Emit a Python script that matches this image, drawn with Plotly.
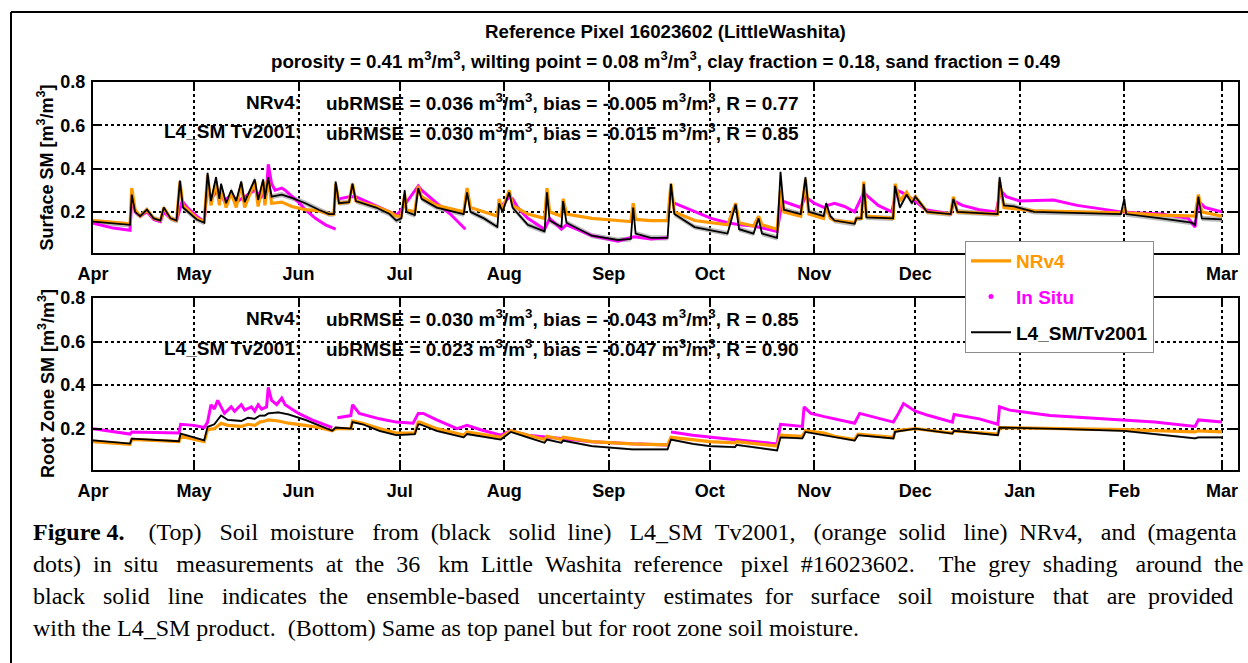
import plotly.graph_objects as go

W, H = 1248, 663

# ---------------- data ----------------
surf_dates = [
    "2015-04-01", "2015-04-07", "2015-04-12", "2015-04-12 12:00", "2015-04-13 12:00", "2015-04-15",
    "2015-04-17", "2015-04-19", "2015-04-21", "2015-04-22", "2015-04-24", "2015-04-25 19:00",
    "2015-04-26 19:00", "2015-04-27 17:00", "2015-05-01 19:00", "2015-05-04", "2015-05-05", "2015-05-06",
    "2015-05-07 12:00", "2015-05-08 12:00", "2015-05-09", "2015-05-10 12:00", "2015-05-12", "2015-05-13 12:00",
    "2015-05-15", "2015-05-16", "2015-05-19", "2015-05-20", "2015-05-21 12:00", "2015-05-22",
    "2015-05-23", "2015-05-24", "2015-05-27", "2015-05-30", "2015-06-03", "2015-06-07",
    "2015-06-10", "2015-06-11 12:00", "2015-06-12", "2015-06-13", "2015-06-16", "2015-06-17",
    "2015-06-18", "2015-06-24", "2015-06-28", "2015-06-30", "2015-07-01 12:00", "2015-07-02 12:00",
    "2015-07-03", "2015-07-05 12:00", "2015-07-06 12:00", "2015-07-07 12:00", "2015-07-12", "2015-07-20",
    "2015-07-21", "2015-07-22", "2015-07-26", "2015-07-30", "2015-07-30 12:00", "2015-07-31 12:00",
    "2015-08-02 12:00", "2015-08-03 12:00", "2015-08-08", "2015-08-13", "2015-08-13 17:00", "2015-08-14 12:00",
    "2015-08-18", "2015-08-18 12:00", "2015-08-19 12:00", "2015-08-27", "2015-09-03 17:00", "2015-09-07 14:00",
    "2015-09-08 07:00", "2015-09-09", "2015-09-13 12:00", "2015-09-18 12:00", "2015-09-19 12:00", "2015-09-20 12:00",
    "2015-09-26 12:00", "2015-10-01 10:00", "2015-10-06 07:00", "2015-10-08 17:00", "2015-10-09 17:00", "2015-10-14",
    "2015-10-15 12:00", "2015-10-16 12:00", "2015-10-21", "2015-10-22", "2015-10-23", "2015-10-28",
    "2015-10-29 10:00", "2015-10-30 10:00", "2015-11-03 19:00", "2015-11-04 14:00", "2015-11-05 19:00", "2015-11-07",
    "2015-11-13", "2015-11-13 12:00", "2015-11-15", "2015-11-15 17:00", "2015-11-16 12:00", "2015-11-24 10:00",
    "2015-11-25", "2015-11-26 10:00", "2015-11-28 10:00", "2015-11-30", "2015-12-01", "2015-12-04 12:00",
    "2015-12-11 12:00", "2015-12-12 07:00", "2015-12-13 12:00", "2015-12-25 10:00", "2015-12-26", "2015-12-27 07:00",
    "2015-12-30 07:00", "2016-01-05 07:00", "2016-01-18", "2016-01-31", "2016-02-01", "2016-02-01 14:00",
    "2016-02-11 22:00", "2016-02-21", "2016-02-22", "2016-02-23", "2016-02-24", "2016-03-01",
]
surf_l4 = [
    0.155, 0.145, 0.14, 0.28, 0.20, 0.18,
    0.21, 0.17, 0.16, 0.22, 0.17, 0.16,
    0.345, 0.22, 0.165, 0.15, 0.38, 0.25,
    0.36, 0.26, 0.33, 0.24, 0.30, 0.25,
    0.34, 0.245, 0.35, 0.255, 0.35, 0.26,
    0.36, 0.27, 0.28, 0.265, 0.24, 0.21,
    0.19, 0.19, 0.34, 0.24, 0.245, 0.33,
    0.25, 0.22, 0.19, 0.16, 0.17, 0.30,
    0.20, 0.185, 0.31, 0.26, 0.22, 0.19,
    0.29, 0.20, 0.17, 0.13, 0.24, 0.20,
    0.29, 0.22, 0.14, 0.11, 0.29, 0.16,
    0.13, 0.25, 0.15, 0.09, 0.07, 0.075,
    0.22, 0.10, 0.08, 0.08, 0.33, 0.19,
    0.13, 0.115, 0.10, 0.235, 0.12, 0.10,
    0.17, 0.10, 0.08, 0.385, 0.21, 0.19,
    0.36, 0.20, 0.18, 0.24, 0.18, 0.16,
    0.145, 0.17, 0.17, 0.33, 0.175, 0.17,
    0.32, 0.22, 0.28, 0.24, 0.27, 0.20,
    0.19, 0.26, 0.20, 0.19, 0.36, 0.23,
    0.225, 0.20, 0.195, 0.19, 0.26, 0.19,
    0.17, 0.15, 0.14, 0.27, 0.17, 0.165,
]
surf_nr = [
    0.16, 0.15, 0.145, 0.31, 0.21, 0.18,
    0.21, 0.17, 0.16, 0.22, 0.17, 0.16,
    0.34, 0.23, 0.17, 0.155, 0.37, 0.23,
    0.34, 0.23, 0.31, 0.22, 0.29, 0.22,
    0.33, 0.22, 0.34, 0.225, 0.34, 0.23,
    0.35, 0.24, 0.245, 0.225, 0.21, 0.205,
    0.19, 0.19, 0.33, 0.24, 0.245, 0.33,
    0.25, 0.225, 0.20, 0.18, 0.18, 0.28,
    0.21, 0.20, 0.32, 0.27, 0.23, 0.20,
    0.31, 0.22, 0.20, 0.18, 0.26, 0.21,
    0.30, 0.23, 0.19, 0.17, 0.31, 0.20,
    0.18, 0.26, 0.19, 0.17, 0.16, 0.155,
    0.24, 0.165, 0.16, 0.16, 0.33, 0.20,
    0.16, 0.15, 0.14, 0.24, 0.15, 0.135,
    0.18, 0.14, 0.12, 0.30, 0.20, 0.18,
    0.35, 0.19, 0.17, 0.22, 0.17, 0.16,
    0.15, 0.17, 0.17, 0.34, 0.18, 0.17,
    0.33, 0.25, 0.29, 0.25, 0.27, 0.20,
    0.19, 0.27, 0.20, 0.19, 0.34, 0.22,
    0.215, 0.205, 0.20, 0.195, 0.22, 0.195,
    0.185, 0.18, 0.18, 0.28, 0.20, 0.18,
]
surf_insitu_dates = [
    "2015-04-01", "2015-04-07", "2015-04-12", "2015-04-12 12:00", "2015-04-13 12:00", "2015-04-15",
    "2015-04-17", "2015-04-19", "2015-04-21", "2015-04-22", "2015-04-24", "2015-04-25 19:00",
    "2015-04-27 12:00", "2015-04-29", "2015-05-01 19:00", "2015-05-04", "2015-05-05", "2015-05-06",
    "2015-05-08", "2015-05-10", "2015-05-12", "2015-05-14", "2015-05-16", "2015-05-19",
    "2015-05-21", "2015-05-22 12:00", "2015-05-23", "2015-05-24", "2015-05-25", "2015-05-27",
    "2015-05-28", "2015-06-01", "2015-06-03", "2015-06-06", "2015-06-09", "2015-06-12",
    "2015-06-12 12:00", "2015-06-13", "2015-06-16", "2015-06-18", "2015-06-24", "2015-06-28",
    "2015-06-30", "2015-07-01", "2015-07-06 12:00", "2015-07-07 12:00", "2015-07-12", "2015-07-16",
    "2015-07-20 12:00", "2015-07-21", "2015-07-31", "2015-08-02 12:00", "2015-08-03 12:00", "2015-08-05",
    "2015-08-08", "2015-08-13", "2015-08-14 12:00", "2015-08-18", "2015-08-19 12:00", "2015-08-27",
    "2015-09-03 17:00", "2015-09-08 12:00", "2015-09-13 12:00", "2015-09-18 12:00", "2015-09-19 12:00", "2015-09-20 12:00",
    "2015-09-26 12:00", "2015-10-01 10:00", "2015-10-06 07:00", "2015-10-10", "2015-10-14", "2015-10-18",
    "2015-10-21", "2015-10-22 12:00", "2015-10-25", "2015-10-28", "2015-10-29 10:00", "2015-11-01",
    "2015-11-04", "2015-11-05", "2015-11-07", "2015-11-10", "2015-11-13", "2015-11-15 17:00",
    "2015-11-17", "2015-11-20", "2015-11-24", "2015-11-25 12:00", "2015-11-27", "2015-11-29",
    "2015-12-01", "2015-12-04", "2015-12-11 12:00", "2015-12-12 12:00", "2015-12-15", "2015-12-20",
    "2015-12-25", "2015-12-26 07:00", "2015-12-28", "2016-01-01", "2016-01-11", "2016-01-18",
    "2016-01-25", "2016-01-31", "2016-02-05", "2016-02-12", "2016-02-20", "2016-02-22",
    "2016-02-23", "2016-02-25", "2016-03-01",
]
surf_insitu = [
    0.148, 0.125, 0.115, 0.27, 0.20, 0.18,
    0.20, 0.165, 0.155, 0.20, 0.17, 0.16,
    0.25, 0.22, 0.18, 0.155, 0.33, 0.26,
    0.30, 0.25, 0.28, 0.25, 0.27, 0.30,
    0.27, 0.30, 0.42, 0.33, 0.30, 0.31,
    0.30, 0.245, 0.21, 0.17, 0.14, 0.12,
    None, 0.26, 0.27, 0.27, 0.23, 0.20,
    0.185, 0.20, 0.32, 0.30, 0.24, 0.19,
    0.12, None, 0.22, 0.27, 0.26, 0.22,
    0.17, 0.12, 0.17, 0.12, 0.14, 0.09,
    0.065, 0.085, 0.075, 0.08, None, 0.24,
    0.20, 0.17, 0.15, 0.14, 0.135, 0.12,
    0.11, 0.25, 0.235, 0.22, 0.27, 0.24,
    0.22, 0.23, 0.24, 0.225, 0.20, 0.29,
    0.27, 0.23, 0.20, 0.30, 0.29, 0.27,
    0.25, 0.21, 0.19, 0.25, 0.23, 0.21,
    0.20, 0.30, 0.27, 0.25, 0.255, 0.23,
    0.215, 0.20, 0.195, 0.19, 0.17, 0.13,
    0.25, 0.22, 0.20,
]

rz_dates = [
    "2015-04-01", "2015-04-12", "2015-04-12 12:00", "2015-04-22", "2015-04-26 12:00", "2015-04-27",
    "2015-05-04", "2015-05-05", "2015-05-07", "2015-05-09", "2015-05-11", "2015-05-15",
    "2015-05-17", "2015-05-19", "2015-05-20 12:00", "2015-05-22", "2015-05-23", "2015-05-26",
    "2015-05-29", "2015-06-03", "2015-06-07", "2015-06-11", "2015-06-12", "2015-06-16 12:00",
    "2015-06-17", "2015-06-20", "2015-06-25", "2015-06-30", "2015-07-05 12:00", "2015-07-06 12:00",
    "2015-07-07", "2015-07-12", "2015-07-20", "2015-07-21", "2015-07-31", "2015-08-03",
    "2015-08-08", "2015-08-13", "2015-08-13 17:00", "2015-08-18", "2015-08-18 12:00", "2015-08-27",
    "2015-09-08", "2015-09-18 12:00", "2015-09-19 12:00", "2015-09-26", "2015-10-01", "2015-10-08 12:00",
    "2015-10-09", "2015-10-21", "2015-10-22", "2015-10-28 12:00", "2015-10-29 10:00", "2015-11-04",
    "2015-11-07", "2015-11-13", "2015-11-14", "2015-11-24 12:00", "2015-11-25", "2015-12-01",
    "2015-12-12", "2015-12-12 12:00", "2015-12-25 12:00", "2015-12-26", "2016-01-15", "2016-02-01",
    "2016-02-22", "2016-02-23", "2016-03-01",
]
rz_l4 = [
    0.146, 0.131, 0.154, 0.148, 0.142, 0.177,
    0.146, 0.208, 0.22, 0.26, 0.24, 0.235,
    0.25, 0.245, 0.26, 0.26, 0.27, 0.275,
    0.265, 0.24, 0.215, 0.19, 0.205, 0.20,
    0.23, 0.22, 0.19, 0.17, 0.175, 0.22,
    0.22, 0.19, 0.16, 0.175, 0.15, 0.185,
    0.16, 0.135, 0.15, 0.135, 0.145, 0.12,
    0.105, 0.105, 0.15, 0.13, 0.12, 0.115,
    0.125, 0.10, 0.16, 0.155, 0.185, 0.17,
    0.161, 0.145, 0.17, 0.155, 0.185, 0.20,
    0.177, 0.19, 0.17, 0.205, 0.198, 0.19,
    0.155, 0.16, 0.16,
]
rz_nr = [
    0.14, 0.128, 0.15, 0.145, 0.14, 0.165,
    0.14, 0.195, 0.20, 0.225, 0.215, 0.21,
    0.22, 0.215, 0.23, 0.235, 0.24, 0.235,
    0.225, 0.215, 0.205, 0.19, 0.20, 0.20,
    0.235, 0.225, 0.20, 0.18, 0.18, 0.23,
    0.23, 0.20, 0.17, 0.185, 0.16, 0.19,
    0.17, 0.15, 0.165, 0.15, 0.16, 0.14,
    0.13, 0.125, 0.16, 0.15, 0.14, 0.135,
    0.14, 0.12, 0.17, 0.165, 0.19, 0.18,
    0.165, 0.15, 0.175, 0.16, 0.19, 0.20,
    0.18, 0.19, 0.175, 0.205, 0.20, 0.195,
    0.185, 0.19, 0.185,
]
rz_insitu_dates = [
    "2015-04-01", "2015-04-12", "2015-04-12 12:00", "2015-04-26 12:00", "2015-04-27", "2015-05-01",
    "2015-05-04", "2015-05-05", "2015-05-06", "2015-05-07", "2015-05-08", "2015-05-09",
    "2015-05-10", "2015-05-12", "2015-05-13", "2015-05-15", "2015-05-16", "2015-05-18",
    "2015-05-19", "2015-05-20", "2015-05-21", "2015-05-22 12:00", "2015-05-23", "2015-05-24",
    "2015-05-25 12:00", "2015-05-27", "2015-05-28", "2015-06-01", "2015-06-05", "2015-06-11",
    "2015-06-12", "2015-06-12 12:00", "2015-06-16 12:00", "2015-06-17", "2015-06-19", "2015-06-25",
    "2015-06-30", "2015-07-05", "2015-07-06 12:00", "2015-07-08", "2015-07-12", "2015-07-18",
    "2015-07-21", "2015-07-25", "2015-07-31", "2015-08-03", "2015-08-08", "2015-08-14",
    "2015-08-18", "2015-08-27", "2015-09-08", "2015-09-18 12:00", "2015-09-19", "2015-09-19 12:00",
    "2015-09-26", "2015-10-05", "2015-10-14", "2015-10-21", "2015-10-22", "2015-10-28 12:00",
    "2015-10-29", "2015-10-31", "2015-11-04", "2015-11-07", "2015-11-13", "2015-11-14 12:00",
    "2015-11-24 12:00", "2015-11-26", "2015-11-27 12:00", "2015-12-01", "2015-12-05", "2015-12-12",
    "2015-12-12 12:00", "2015-12-20", "2015-12-25 12:00", "2015-12-26", "2015-12-29", "2016-01-10",
    "2016-01-25", "2016-02-01", "2016-02-10", "2016-02-22", "2016-02-23", "2016-03-01",
]
rz_insitu = [
    0.20, 0.175, 0.185, 0.18, 0.22, 0.215,
    0.205, 0.23, 0.31, 0.29, 0.33, 0.30,
    0.27, 0.30, 0.28, 0.31, 0.285, 0.30,
    0.28, 0.31, 0.29, 0.30, 0.39, 0.33,
    0.31, 0.34, 0.31, 0.27, 0.24, 0.205,
    None, 0.25, 0.26, 0.31, 0.27, 0.245,
    0.23, 0.225, 0.27, 0.27, 0.24, 0.20,
    0.215, 0.195, 0.17, 0.19, 0.17, 0.16,
    0.155, 0.14, 0.13, 0.125, None, 0.185,
    0.17, 0.155, 0.14, 0.13, 0.22, 0.21,
    0.30, 0.27, 0.255, 0.245, 0.225, 0.27,
    0.23, 0.27, 0.315, 0.28, 0.26, 0.23,
    0.265, 0.245, 0.22, 0.30, 0.285, 0.26,
    0.245, 0.24, 0.23, 0.21, 0.24, 0.23,
]

# ensemble uncertainty (half-width of grey band)
surf_spread = 0.012
rz_spread = 0.005

month_ticks = ["2015-04-01", "2015-05-01", "2015-06-01", "2015-07-01", "2015-08-01", "2015-09-01",
               "2015-10-01", "2015-11-01", "2015-12-01", "2016-01-01", "2016-02-01", "2016-03-01"]
month_labels = ["Apr", "May", "Jun", "Jul", "Aug", "Sep", "Oct", "Nov", "Dec", "Jan", "Feb", "Mar"]
y_ticks = [0.2, 0.4, 0.6, 0.8]
y_labels = ["0.2", "0.4", "0.6", "0.8"]

M3 = "m<sup>3</sup>/m<sup>3</sup>"
stats_top = [("NRv4:", f"ubRMSE = 0.036 {M3}, bias = -0.005 {M3}, R = 0.77"),
             ("L4_SM Tv2001:", f"ubRMSE = 0.030 {M3}, bias = -0.015 {M3}, R = 0.85")]
stats_bot = [("NRv4:", f"ubRMSE = 0.030 {M3}, bias = -0.043 {M3}, R = 0.85"),
             ("L4_SM Tv2001:", f"ubRMSE = 0.023 {M3}, bias = -0.047 {M3}, R = 0.90")]

# caption: words per line, and the number of spaces per gap (approximate justification)
caption_words = [
    ["<b>Figure", "4.</b>", "(Top)", "Soil", "moisture", "from", "(black", "solid", "line)", "L4_SM",
     "Tv2001,", "(orange", "solid", "line)", "NRv4,", "and", "(magenta"],
    ["dots)", "in", "situ", "measurements", "at", "the", "36", "km", "Little", "Washita", "reference",
     "pixel", "#16023602.", "The", "grey", "shading", "around", "the"],
    ["black", "solid", "line", "indicates", "the", "ensemble-based", "uncertainty", "estimates", "for",
     "surface", "soil", "moisture", "that", "are", "provided"],
    ["with", "the", "L4_SM", "product.", "(Bottom)", "Same", "as", "top", "panel", "but", "for", "root",
     "zone", "soil", "moisture."],
]
caption_gaps = [
    [1, 4, 3, 2, 3, 2, 3, 2, 3, 2, 3, 2, 3, 2, 3, 2],
    [2, 2, 3, 2, 2, 2, 3, 2, 2, 2, 3, 2, 4, 2, 2, 3, 2],
    [3, 3, 3, 2, 3, 3, 3, 2, 3, 3, 3, 3, 3, 2],
    [1, 1, 1, 2, 1, 1, 1, 1, 1, 1, 1, 1, 1, 1],
]

ORANGE = "#FF9900"
MAGENTA = "#FF00FF"
GREY = "rgba(175,175,175,0.85)"
SANS = "Liberation Sans, Arial, sans-serif"
SERIF = "Liberation Serif, Times New Roman, serif"
NB = "\u00a0"

def px_x(p):
    return p / W

def px_y(p):
    return 1 - p / H

fig = go.Figure()

def add_panel(dates, l4, nr, is_dates, insitu, spread, xa, ya, legend):
    upper = [v + spread for v in l4]
    lower = [v - spread for v in l4]
    fig.add_trace(go.Scatter(x=dates, y=upper, mode="lines", line=dict(width=0, color=GREY),
                             showlegend=False, hoverinfo="skip", xaxis=xa, yaxis=ya))
    fig.add_trace(go.Scatter(x=dates, y=lower, mode="lines", line=dict(width=0, color=GREY),
                             fill="tonexty", fillcolor=GREY, showlegend=False, hoverinfo="skip",
                             xaxis=xa, yaxis=ya))
    fig.add_trace(go.Scatter(x=is_dates, y=insitu, mode="lines", line=dict(color=MAGENTA, width=3),
                             connectgaps=False, showlegend=False, xaxis=xa, yaxis=ya))
    fig.add_trace(go.Scatter(x=dates, y=nr, mode="lines", line=dict(color=ORANGE, width=3.2),
                             name=f"<span style='color:{ORANGE}'>NRv4</span>", legendgroup="a",
                             legendrank=1, showlegend=legend, xaxis=xa, yaxis=ya))
    fig.add_trace(go.Scatter(x=dates, y=l4, mode="lines", line=dict(color="black", width=1.8),
                             name="L4_SM/Tv2001", legendgroup="c", legendrank=3,
                             showlegend=legend, xaxis=xa, yaxis=ya))

add_panel(surf_dates, surf_l4, surf_nr, surf_insitu_dates, surf_insitu, surf_spread, "x", "y", True)
add_panel(rz_dates, rz_l4, rz_nr, rz_insitu_dates, rz_insitu, rz_spread, "x2", "y2", False)

# legend entry for in situ dots
fig.add_trace(go.Scatter(x=[None], y=[None], mode="markers",
                         marker=dict(color=MAGENTA, size=5),
                         name=f"<span style='color:{MAGENTA}'>In Situ</span>",
                         legendgroup="b", legendrank=2, showlegend=True))

axis_common = dict(
    showline=True, linewidth=2, linecolor="black", mirror="allticks",
    ticks="inside", ticklen=9, tickwidth=2, tickcolor="black",
    showgrid=True, gridcolor="black", gridwidth=1.5, griddash="dot",
    zeroline=False, automargin=False,
    tickfont=dict(family=SANS, size=18, color="black", weight="bold"),
)
x_range = ["2015-04-01", "2016-03-05 18:00"]
y_range = [0.01, 0.8]

fig.update_layout(
    width=W, height=H, margin=dict(l=0, r=0, t=0, b=0, pad=0, autoexpand=False),
    paper_bgcolor="white", plot_bgcolor="white",
    xaxis=dict(domain=[px_x(93), px_x(1238)], anchor="y", range=x_range, type="date",
               tickmode="array", tickvals=month_ticks, ticktext=month_labels,
               ticklabelstandoff=3, **axis_common),
    yaxis=dict(domain=[px_y(253), px_y(82)], anchor="x", range=y_range,
               tickmode="array", tickvals=y_ticks, ticktext=y_labels,
               ticklabelstandoff=2, **axis_common),
    xaxis2=dict(domain=[px_x(93), px_x(1238)], anchor="y2", range=x_range, type="date",
                tickmode="array", tickvals=month_ticks, ticktext=month_labels,
                ticklabelstandoff=3, **axis_common),
    yaxis2=dict(domain=[px_y(470), px_y(298)], anchor="x2", range=y_range,
                tickmode="array", tickvals=y_ticks, ticktext=y_labels,
                ticklabelstandoff=2, **axis_common),
    showlegend=True,
    legend=dict(x=px_x(965), y=px_y(241), xanchor="left", yanchor="top",
                bgcolor="white", bordercolor="#8c8c8c", borderwidth=1,
                font=dict(family=SANS, size=19, color="black", weight="bold"),
                tracegroupgap=8, traceorder="grouped", itemwidth=40,
                entrywidth=160, entrywidthmode="pixels"),
)

ann = []
ann.append(dict(text="Reference Pixel 16023602 (LittleWashita)", x=px_x(665), y=px_y(31),
                font=dict(family=SANS, size=18.7, color="black", weight="bold")))
ann.append(dict(text=f"porosity = 0.41 {M3}, wilting point = 0.08 {M3}, clay fraction = 0.18, sand fraction = 0.49",
                x=px_x(665), y=px_y(60), font=dict(family=SANS, size=18.7, color="black", weight="bold")))

for (lab, txt), yp in zip(stats_top + stats_bot, [102, 132, 318, 348]):
    ann.append(dict(text=lab, x=px_x(303), y=px_y(yp), xanchor="right",
                    font=dict(family=SANS, size=19, color="black", weight="bold")))
    ann.append(dict(text=txt, x=px_x(324), y=px_y(yp), xanchor="left",
                    font=dict(family=SANS, size=19, color="black", weight="bold")))

ann.append(dict(text=f"Surface SM [{M3}]", x=px_x(46), y=px_y(167.5), textangle=-90,
                font=dict(family=SANS, size=18, color="black", weight="bold")))
ann.append(dict(text=f"Root Zone SM [{M3}]", x=px_x(46), y=px_y(384), textangle=-90,
                font=dict(family=SANS, size=18, color="black", weight="bold")))

for words, gaps, yp in zip(caption_words, caption_gaps, [532, 564, 596, 628]):
    line = words[0]
    for w, g in zip(words[1:], gaps):
        line += " " + NB * (g - 1) + w
    ann.append(dict(text=line, x=px_x(31), y=px_y(yp), xanchor="left",
                    font=dict(family=SERIF, size=24, color="black")))

for a in ann:
    a.setdefault("xanchor", "center")
    a.update(xref="paper", yref="paper", yanchor="middle", showarrow=False)
fig.update_layout(annotations=ann)

# figure frame (left and top edges visible)
fig.add_shape(type="line", xref="paper", yref="paper", x0=px_x(11), x1=px_x(11), y0=-0.05, y1=px_y(12),
              line=dict(color="black", width=2))
fig.add_shape(type="line", xref="paper", yref="paper", x0=px_x(11), x1=1.05, y0=px_y(12), y1=px_y(12),
              line=dict(color="black", width=2))

fig.write_html("out.html")
